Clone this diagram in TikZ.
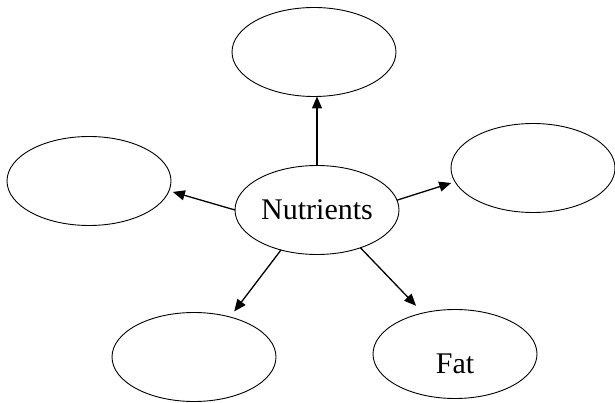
\documentclass[tikz,border=0pt]{standalone}
\usepackage{fontspec}
\setmainfont{Liberation Serif}
\usetikzlibrary{shapes.geometric,arrows.meta}
\begin{document}
\begin{tikzpicture}[x=1pt,y=-1pt,
  bubble/.style={draw,ellipse,line width=0.9pt,minimum width=164pt,minimum height=89pt,
    inner sep=0pt,outer sep=0pt,font=\fontsize{30}{36}\selectfont},
  every label/.style={font=\fontsize{30}{36}\selectfont},
  link/.style={line width=1.3pt,-{Triangle[length=12pt,width=10pt]}}]
\useasboundingbox (0,0) rectangle (615,403);

\node[bubble] (nut) at (317,210) {Nutrients};
\node[bubble] (top) at (314,52) {};
\node[bubble] (left) at (89,181) {};
\node[bubble] (right) at (533,168) {};
\node[bubble] (low) at (194,357) {};
\node[bubble, label={[yshift=-10pt]center:Fat}] (fat) at (455,354) {};

\draw[link] (nut.north) -- (nut.north |- top.south);
\draw[link,shorten >=4pt] (nut.west) -- (left.-7);
\draw[link,shorten >=4pt] (nut.7) -- (right.190);
\draw[link,shorten >=7pt] (nut.228) -- (low.48);
\draw[link,shorten >=10pt] (nut.-41) -- (fat.128);
\end{tikzpicture}
\end{document}
